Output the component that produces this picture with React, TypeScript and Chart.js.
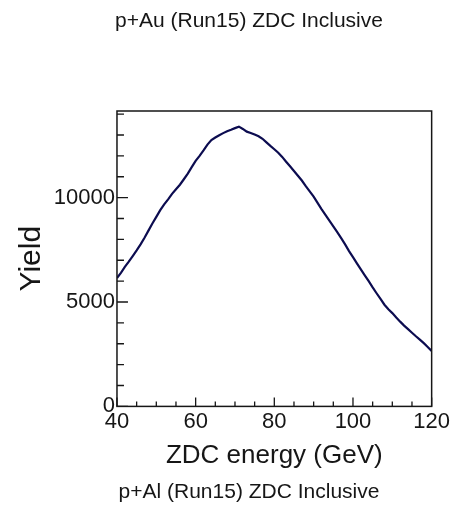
import { useEffect, useRef } from "react";
import { Chart, registerables } from "chart.js";

Chart.register(...registerables);

const topTitle = "p+Au (Run15) ZDC Inclusive";
const bottomCaption = "p+Al (Run15) ZDC Inclusive";
const xTitle = "ZDC energy (GeV)";
const yTitle = "Yield";

const xTicks = [40, 60, 80, 100, 120];
const yTicks = [0, 5000, 10000];

const energies = [
  40, 41, 42, 43, 44, 45, 46, 47, 48, 49,
  50, 51, 52, 53, 54, 55, 56, 57, 58, 59,
  60, 61, 62, 63, 64, 65, 66, 67, 68, 69,
  70, 71, 72, 73, 74, 75, 76, 77, 78, 79,
  80, 81, 82, 83, 84, 85, 86, 87, 88, 89,
  90, 91, 92, 93, 94, 95, 96, 97, 98, 99,
  100, 101, 102, 103, 104, 105, 106, 107, 108, 109,
  110, 111, 112, 113, 114, 115, 116, 117, 118, 119,
  120,
];

const yields = [
  6150, 6400, 6680, 6930, 7200, 7470, 7760, 8080, 8420, 8760,
  9080, 9400, 9680, 9920, 10180, 10400, 10620, 10880, 11150, 11460,
  11760, 12000, 12260, 12540, 12760, 12880, 12990, 13090, 13180, 13250,
  13330, 13400, 13290, 13160, 13100, 13020, 12940, 12820, 12650, 12480,
  12320, 12150, 11950, 11720, 11500, 11280, 11050, 10820, 10550, 10300,
  10050, 9750, 9450, 9170, 8900, 8620, 8350, 8060, 7760, 7440,
  7150, 6850, 6560, 6280, 6000, 5700, 5420, 5150, 4870, 4650,
  4470, 4260, 4060, 3870, 3700, 3530, 3360, 3200, 3030, 2850,
  2650,
];

const FONT = '"Liberation Sans", Arial, Helvetica, sans-serif';
const INK = "#161616";

const framePlugin = {
  id: "rootFrame",
  afterDatasetsDraw(chart: any) {
    const { ctx, chartArea } = chart;
    const { left, right, top, bottom } = chartArea;
    const xs = chart.scales.x;
    const ys = chart.scales.y;
    ctx.save();
    ctx.strokeStyle = INK;
    ctx.lineWidth = 1.5;
    ctx.strokeRect(left, top, right - left, bottom - top);
    ctx.lineWidth = 1.3;
    ctx.beginPath();
    for (let v = xs.min; v <= xs.max + 1e-6; v += 5) {
      const px = xs.getPixelForValue(v);
      const len = v % 20 === 0 ? 9 : 5;
      ctx.moveTo(px, bottom);
      ctx.lineTo(px, bottom - len);
    }
    for (let v = ys.min; v <= ys.max + 1e-6; v += 1000) {
      const py = ys.getPixelForValue(v);
      const len = v % 5000 === 0 ? 11 : 7;
      ctx.moveTo(left, py);
      ctx.lineTo(left + len, py);
    }
    ctx.stroke();
    ctx.fillStyle = INK;
    ctx.font = `21px ${FONT}`;
    ctx.textAlign = "center";
    ctx.textBaseline = "middle";
    ctx.fillText(topTitle, 249, 21);
    ctx.fillText(bottomCaption, 249, 492);
    ctx.restore();
  },
};

export default function App() {
  const ref = useRef<HTMLCanvasElement>(null);
  useEffect(() => {
    if (!ref.current) return;
    const chart = new Chart(ref.current, {
      type: "line",
      data: {
        datasets: [
          {
            data: energies.map((e, i) => ({ x: e, y: yields[i] })),
            borderColor: "#0c0c50",
            borderWidth: 2.2,
            pointRadius: 0,
            tension: 0,
            fill: false,
          },
        ],
      },
      options: {
        responsive: false,
        animation: false,
        layout: { padding: { top: 111, right: 19, bottom: 0, left: 0 } },
        plugins: {
          legend: { display: false },
          tooltip: { enabled: false },
          title: { display: false },
        },
        scales: {
          x: {
            type: "linear",
            min: 40,
            max: 120,
            afterBuildTicks: (s: any) => {
              s.ticks = xTicks.map((v) => ({ value: v }));
            },
            grid: { display: false, drawTicks: false },
            border: { display: false },
            ticks: {
              padding: 2,
              color: INK,
              font: { family: FONT, size: 22 },
              maxRotation: 0,
              autoSkip: false,
              callback: (v: any) => String(v),
            },
            title: {
              display: true,
              text: xTitle,
              color: INK,
              font: { family: FONT, size: 26 },
              padding: { top: 3, bottom: 38 },
            },
          },
          y: {
            type: "linear",
            min: 0,
            max: 14150,
            afterBuildTicks: (s: any) => {
              s.ticks = yTicks.map((v) => ({ value: v }));
            },
            grid: { display: false, drawTicks: false },
            border: { display: false },
            ticks: {
              padding: 2,
              color: INK,
              font: { family: FONT, size: 22 },
              callback: (v: any) => String(v),
            },
            title: {
              display: true,
              text: yTitle,
              color: INK,
              font: { family: FONT, size: 30 },
              padding: { top: 13.8, bottom: 2 },
            },
          },
        },
      },
      plugins: [framePlugin],
    });
    return () => chart.destroy();
  }, []);
  return (
    <div style={{ position: "absolute", left: 0, top: 0, width: 452, height: 509 }}>
      <canvas ref={ref} width={452} height={509} />
    </div>
  );
}
